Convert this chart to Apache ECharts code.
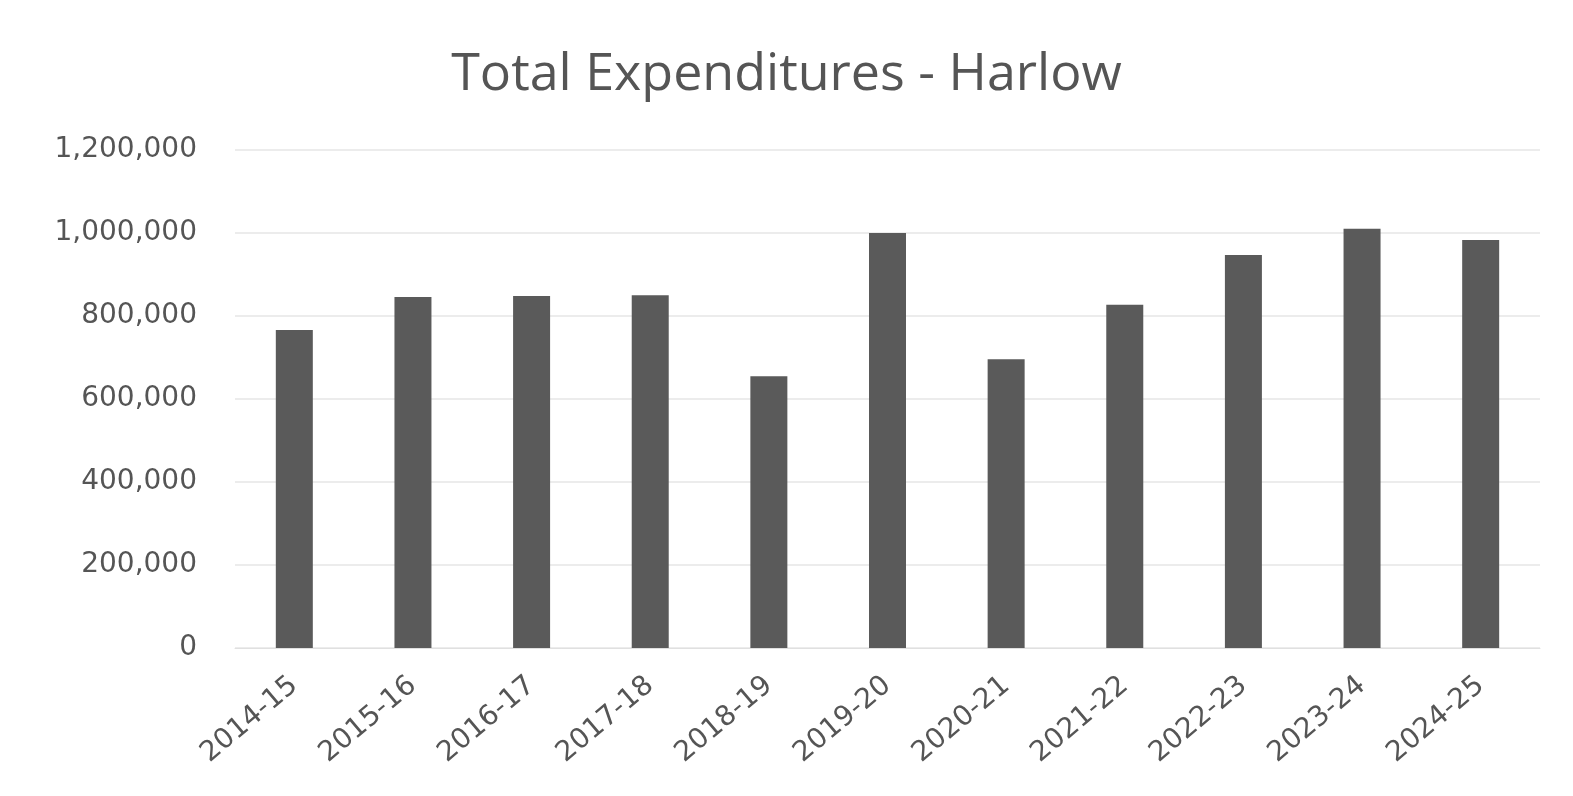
<!DOCTYPE html>
<html>
<head>
<meta charset="utf-8">
<script src="https://cdn.jsdelivr.net/npm/echarts@6/dist/echarts.min.js"></script>
<style>
  html, body { margin: 0; padding: 0; background: #fff; }
  #chart { width: 1573px; height: 796px; }
</style>
</head>
<body>
<div id="chart"></div>
<script>
const years = ['2014-15', '2015-16', '2016-17', '2017-18', '2018-19', '2019-20',
  '2020-21', '2021-22', '2022-23', '2023-24', '2024-25']
const expenditures = [766000, 846000, 848000, 850000, 655000, 1000000,
  696000, 827000, 947000, 1010000, 983000]

const chart = echarts.init(document.getElementById('chart'))
chart.setOption({
  animation: false,
  title: {
    text: 'Total Expenditures - Harlow',
    left: 'center',
    top: 44,
    textStyle: { fontFamily: 'Open Sans', fontSize: 52, fontWeight: 500, color: '#555555' }
  },
  grid: { left: 235, right: 33, top: 150, bottom: 148 },
  xAxis: {
    type: 'category',
    data: years,
    axisLine: { lineStyle: { color: '#e0e0e0' } },
    axisTick: { show: false },
    axisLabel: {
      rotate: 40,
      fontFamily: 'DejaVu Sans',
      fontSize: 28,
      color: '#555555',
      margin: 34
    }
  },
  yAxis: {
    type: 'value',
    min: 0,
    max: 1200000,
    interval: 200000,
    axisLine: { show: false },
    axisTick: { show: false },
    splitLine: { lineStyle: { color: '#e6e6e6', width: 1.5 } },
    axisLabel: {
      fontFamily: 'DejaVu Sans',
      fontSize: 28,
      color: '#555555',
      margin: 38,
      formatter: (v) => v.toLocaleString('en-US')
    }
  },
  series: [
    {
      type: 'bar',
      data: expenditures,
      barWidth: 37,
      itemStyle: { color: '#5a5a5a' }
    }
  ]
})
</script>
</body>
</html>
